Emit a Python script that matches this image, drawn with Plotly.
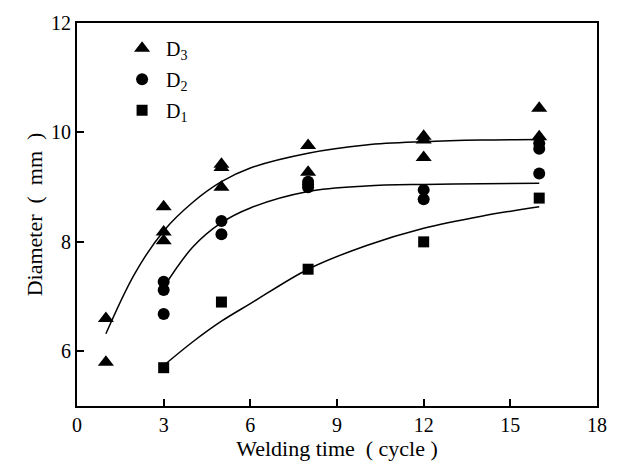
import plotly.graph_objects as go

# Measured points
d3_x = [1, 1, 3, 3, 3, 5, 5, 5, 8, 8, 12, 12, 12, 16, 16]
d3_y = [6.6, 5.8, 8.64, 8.18, 8.02, 9.42, 9.36, 9.0, 9.76, 9.27, 9.93, 9.86, 9.54, 10.44, 9.92]

d2_x = [3, 3, 3, 5, 5, 8, 8, 8, 12, 12, 16, 16, 16]
d2_y = [7.27, 7.12, 6.68, 8.38, 8.14, 9.1, 9.05, 9.0, 8.95, 8.78, 9.8, 9.7, 9.25]

d1_x = [3, 5, 8, 12, 16]
d1_y = [5.7, 6.9, 7.5, 8.0, 8.8]

# Fitted curves
c3_x = [1, 2, 3, 4, 5, 6, 8, 10, 12, 14, 16]
c3_y = [6.32, 7.42, 8.2, 8.72, 9.1, 9.35, 9.62, 9.77, 9.83, 9.86, 9.87]

c2_x = [3, 4, 5, 6, 8, 10, 12, 14, 16]
c2_y = [7.17, 7.9, 8.35, 8.62, 8.92, 9.02, 9.05, 9.06, 9.07]

c1_x = [3, 4, 5, 6, 8, 10, 12, 14, 16]
c1_y = [5.74, 6.17, 6.55, 6.87, 7.5, 7.93, 8.25, 8.47, 8.64]

x_ticks = [0, 3, 6, 9, 12, 15, 18]
y_ticks = [6, 8, 10, 12]

FONT = "Liberation Serif, Times New Roman, serif"
NB = "\u00a0"

fig = go.Figure()
for cx, cy in [(c3_x, c3_y), (c2_x, c2_y), (c1_x, c1_y)]:
    fig.add_trace(go.Scatter(x=cx, y=cy, mode="lines", line=dict(color="black", width=1.5, shape="spline"),
                             showlegend=False, hoverinfo="skip"))

fig.add_trace(go.Scatter(x=d3_x, y=d3_y, mode="markers", name="D<sub>3</sub>", legendgroup="a",
                         marker=dict(symbol="triangle-up", size=14, color="black")))
fig.add_trace(go.Scatter(x=d2_x, y=d2_y, mode="markers", name="D<sub>2</sub>", legendgroup="b",
                         marker=dict(symbol="circle", size=12, color="black")))
fig.add_trace(go.Scatter(x=d1_x, y=d1_y, mode="markers", name="D<sub>1</sub>", legendgroup="c",
                         marker=dict(symbol="square", size=11, color="black")))

axis_common = dict(showgrid=False, zeroline=False, showline=True, linecolor="black", linewidth=2,
                   mirror=True, ticks="inside", ticklen=7, tickwidth=1.5, tickcolor="black",
                   tickfont=dict(family=FONT, size=20, color="black"))

fig.update_xaxes(range=[0, 18], tickvals=x_ticks, ticktext=[str(v) for v in x_ticks],
                 title=dict(text="Welding time" + NB * 2 + "(" + NB + "cycle" + NB + ")",
                            font=dict(family=FONT, size=22, color="black"), standoff=4),
                 **axis_common)
fig.update_yaxes(range=[5, 12], tickvals=y_ticks, ticktext=[str(v) for v in y_ticks],
                 title=dict(text="Diameter" + NB * 2 + "(" + NB * 2 + "mm" + NB * 2 + ")" + NB * 5,
                            font=dict(family=FONT, size=22, color="black"), standoff=2),
                 **axis_common)

fig.update_layout(
    width=622, height=467,
    margin=dict(l=77, r=25, t=21, b=59),
    paper_bgcolor="white", plot_bgcolor="white",
    legend=dict(x=0.079, y=0.985, xanchor="left", yanchor="top", bgcolor="rgba(0,0,0,0)",
                font=dict(family=FONT, size=20, color="black"), tracegroupgap=2,
                itemwidth=38),
    font=dict(family=FONT, color="black"),
)

fig.write_html("out.html")
